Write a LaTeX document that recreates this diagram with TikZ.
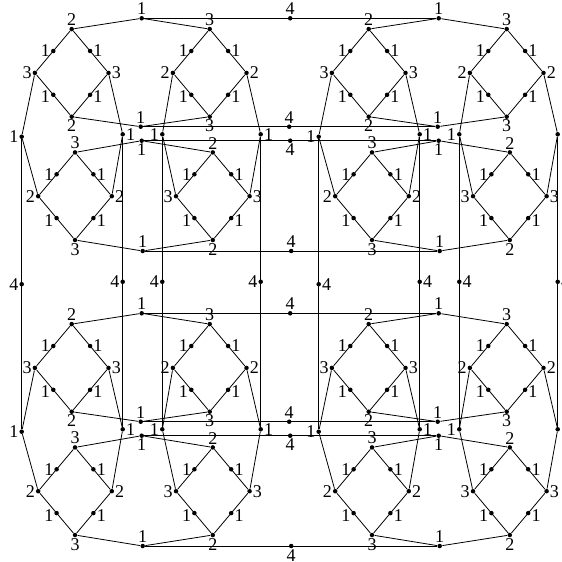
\documentclass[tikz,border=0pt]{standalone}
\usepackage{fontspec}
\setmainfont{Liberation Serif}
\begin{document}
\begin{tikzpicture}[x=1pt,y=-1pt,line width=0.8pt,
    dot/.style={circle,fill=black,inner sep=0pt,minimum size=4.5pt},
    every label/.style={inner sep=0.3pt,font=\fontsize{18}{18}\selectfont},
    label distance=0pt]
    \useasboundingbox (0,0) rectangle (562,562);
    % four blocks, each of four diamonds
    \foreach \b/\bx/\by in {11/0/0, 12/297/0, 21/0/295, 22/297/295}{
    \begin{scope}[shift={(\bx,\by)}]
        \node[dot,label=above:1] (b\b-t) at (141.7,18.3) {};
        \node[dot,label=above:1] (b\b-mu) at (140.7,126.7) {};
        \node[dot,label=below:1] (b\b-ml) at (141.7,140.7) {};
        \node[dot,label=above:1] (b\b-bt) at (142.7,251) {};
        \node[dot,label=left:1] (b\b-l) at (21.7,136.7) {};
        \node[dot,label=right:1] (b\b-il) at (122.7,134.3) {};
        \node[dot,label=left:1] (b\b-ir) at (162.3,134.3) {};
        \node[dot,label=right:1] (b\b-r) at (260.7,134.3) {};
        \foreach \d/\cx/\cy/\p/\q in {ul/71.7/72.9/2/3, ur/209.7/72.9/3/2, ll/75/196.2/3/2, lr/212.8/196.2/2/3}{
            \node[dot,label=above:\p] (b\b-\d-t) at (\cx,\cy-43.8) {};
            \node[dot,label=below:\p] (b\b-\d-b) at (\cx,\cy+43.8) {};
            \node[dot,label=left:\q] (b\b-\d-l) at (\cx-36.8,\cy) {};
            \node[dot,label=right:\q] (b\b-\d-r) at (\cx+36.8,\cy) {};
            \draw (b\b-\d-t) -- node[dot,label=left:1] (b\b-\d-m1) {} (b\b-\d-l)
                -- node[dot,label={[yshift=-2pt]left:1}] (b\b-\d-m2) {} (b\b-\d-b)
                -- node[dot,label={[yshift=-2pt]right:1}] (b\b-\d-m3) {} (b\b-\d-r)
                -- node[dot,label=right:1] (b\b-\d-m4) {} (b\b-\d-t);
        }
        \draw (b\b-ul-t) -- (b\b-t) -- (b\b-ur-t);
        \draw (b\b-ul-b) -- (b\b-mu) -- (b\b-ur-b);
        \draw (b\b-ll-t) -- (b\b-ml) -- (b\b-lr-t);
        \draw (b\b-ll-b) -- (b\b-bt) -- (b\b-lr-b);
        \draw (b\b-ul-l) -- (b\b-l) -- (b\b-ll-l);
        \draw (b\b-ul-r) -- (b\b-il) -- (b\b-ll-r);
        \draw (b\b-ur-l) -- (b\b-ir) -- (b\b-lr-l);
        \draw (b\b-ur-r) -- (b\b-r) -- (b\b-lr-r);
    \end{scope}
    }
    % edges between the blocks
    \foreach \r/\pos in {1/above, 2/below}{
        \draw (b\r1-t) -- node[dot,label=above:4] (h\r-t) {} (b\r2-t);
        \draw (b\r1-mu) -- node[dot,label=above:4] (h\r-mu) {} (b\r2-mu);
        \draw (b\r1-ml) -- node[dot,label=below:4] (h\r-ml) {} (b\r2-ml);
        \draw (b\r1-bt) -- node[dot,label=\pos:4] (h\r-bt) {} (b\r2-bt);
    }
    \foreach \c/\pos in {1/left, 2/right}{
        \draw (b1\c-l) -- node[dot,label=\pos:4] (v\c-l) {} (b2\c-l);
        \draw (b1\c-il) -- node[dot,label=\pos:4] (v\c-il) {} (b2\c-il);
        \draw (b1\c-ir) -- node[dot,label=\pos:4] (v\c-ir) {} (b2\c-ir);
        \draw (b1\c-r) -- node[dot,label=\pos:4] (v\c-r) {} (b2\c-r);
    }
\end{tikzpicture}
\end{document}
